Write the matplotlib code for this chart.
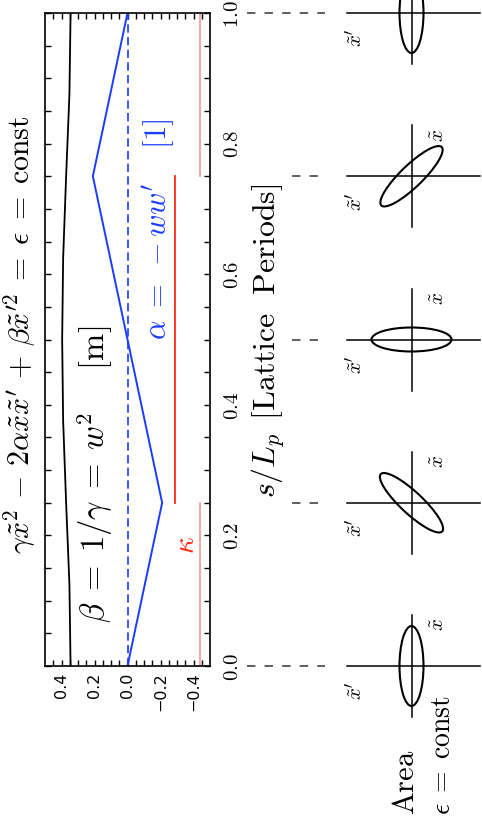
import numpy as np
import matplotlib
matplotlib.use('Agg')
from matplotlib import pyplot as plt
from matplotlib.patches import Ellipse

plt.rcParams['mathtext.fontset'] = 'cm'

# lattice functions along one period
s_beta = [0.0, 0.125, 0.25, 0.375, 0.5, 0.625, 0.75, 0.875, 1.0]
beta = [0.345, 0.352, 0.372, 0.390, 0.396, 0.390, 0.372, 0.352, 0.345]
s_alpha = [0.0, 0.25, 0.75, 1.0]
alpha = [0.0, -0.21, 0.21, 0.0]
# focusing strength, piecewise constant
kappa_s = [(0.0, 0.25), (0.25, 0.75), (0.75, 1.0)]
kappa = [-0.44, -0.29, -0.44]
kappa_col = ['#f5a59a', '#ff2a14', '#f5a59a']

xticks = [0.4, 0.2, 0.0, -0.2, -0.4]
sticks = [0.0, 0.2, 0.4, 0.6, 0.8, 1.0]

# phase space ellipses (size in px, tilt in deg)
ell_s = [0.0, 0.25, 0.5, 0.75, 1.0]
ell_w = [24, 84, 80, 84, 24]
ell_h = [80, 22, 24, 22, 80]
ell_ang = [0, -43, 0, 44, 0]
dash_start = [7, 52, 52, 52, 7]

W, H = 482, 829
fig = plt.figure(figsize=(W/100, H/100), dpi=100)
ax = fig.add_axes([45/W, (H-667)/H, 165/W, 653/H])

ax.plot(beta, s_beta, color='black', lw=1.3)
ax.plot(alpha, s_alpha, color='#1a3cff', lw=1.4)
ax.plot([0, 0], [0, 1], color='#1a3cff', lw=1.2, dashes=(5, 2.6))
for (a, b), k, c in zip(kappa_s, kappa, kappa_col):
    ax.plot([k, k], [a, b], color=c, lw=1.3)

ax.set_xlim(0.5, -0.5)
ax.set_ylim(0, 1)
ax.set_xticks(xticks)
ax.set_xticklabels(['0.4', '0.2', '0.0', '\u22120.2', '\u22120.4'], rotation=90, fontsize=11.5)
ax.set_xticks(np.arange(-0.45, 0.5, 0.05), minor=True)
ax.yaxis.tick_right()
ax.set_yticks(sticks)
ax.set_yticklabels(['$%.1f$' % v for v in sticks], rotation=90, va='center', fontsize=15)
ax.set_yticks(np.arange(0, 1.0001, 0.05), minor=True)
ax.tick_params(which='both', direction='in', top=True, bottom=True, left=True, right=True, length=4, width=1)
ax.tick_params(axis='x', pad=4)
ax.tick_params(axis='y', pad=9)
for sp in ax.spines.values():
    sp.set_linewidth(1.2)

ax.yaxis.set_label_position('right')
ax.set_ylabel(r'$s/L_p\;\,[\mathrm{Lattice\ \ Periods}]$', fontsize=23, rotation=90, labelpad=5)

ax.text(0.197, 0.068, r'$\beta \;=\; 1/\gamma \;=\; w^2\quad\;\, [\mathrm{m}]$', rotation=90,
        rotation_mode='anchor', ha='left', va='center', fontsize=23.5)
ax.text(-0.19, 0.50, r'$\alpha \;=\; -ww^{\prime}\quad\; [1]$', rotation=90, color='#1a3cff',
        rotation_mode='anchor', ha='left', va='center', fontsize=22)
ax.text(-0.352, 0.187, r'$\kappa$', rotation=90, color='#ff2a14',
        rotation_mode='anchor', ha='center', va='center', fontsize=21)

fig.text(20/W, 1-335/H,
         r'$\gamma\tilde{x}^2 \,-\, 2\alpha\tilde{x}\tilde{x}^{\prime} \,+\, \beta\tilde{x}^{\prime 2} \;=\; \epsilon \;=\; \mathrm{const}$',
         rotation=90, ha='center', va='center', fontsize=21.5)

# phase space panels
ax2 = fig.add_axes([240/W, (H-667)/H, 242/W, 653/H])
ax2.set_xlim(0, 242)
ax2.set_ylim(0, 653)
ax2.axis('off')
cx = 171.5
for s, w, h, ang, d0 in zip(ell_s, ell_w, ell_h, ell_ang, dash_start):
    y = s * 653
    ax2.plot([d0, 85], [y, y], color='#333333', lw=1.1, dashes=(5.5, 6), clip_on=False)
    ax2.plot([cx - 64.5, cx + 68.5], [y, y], color='black', lw=1.1, clip_on=False)
    ax2.plot([cx, cx], [y - 51, y + 51], color='black', lw=1.1, clip_on=False)
    ax2.add_patch(Ellipse((cx, y), w, h, angle=ang, fill=False, lw=1.5, ec='black', clip_on=False))
    if s < 1.0:
        ax2.text(cx + 26, y + 42, r'$\tilde{x}$', rotation=90, ha='center', va='center', fontsize=15)
    ax2.text(cx - 56, y - 24, r'$\tilde{x}^{\prime}$', rotation=90, ha='center', va='center', fontsize=15)

fig.text(405/W, 1-815/H, r'$\mathrm{Area}$', rotation=90, rotation_mode='anchor',
         ha='left', va='center', fontsize=22)
fig.text(442/W, 1-815/H, r'$\epsilon \;=\; \mathrm{const}$', rotation=90, rotation_mode='anchor',
         ha='left', va='center', fontsize=20)

fig.savefig('out.png', dpi=100)
